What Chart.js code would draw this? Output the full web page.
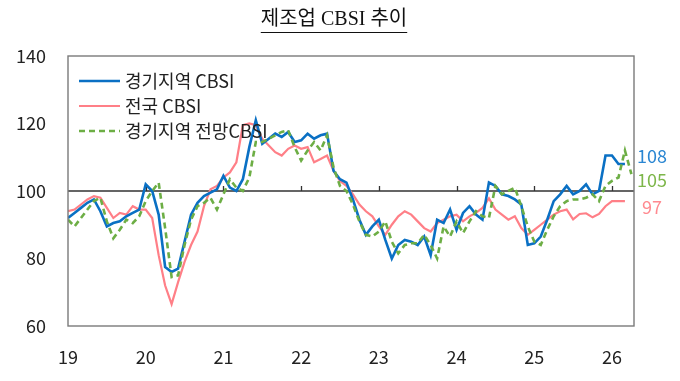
<!DOCTYPE html>
<html><head><meta charset="utf-8">
<script src="https://cdn.jsdelivr.net/npm/chart.js@4.4.1/dist/chart.umd.min.js"></script>
<style>html,body{margin:0;padding:0;background:#fff;}#wrap{width:680px;height:381px;}</style>
</head><body><div id="wrap"><canvas id="c" width="680" height="381"></canvas></div>
<script>
// Monthly data, Jan 2019 onward
const yearLabels = ['19','20','21','22','23','24','25','26'];
const gyeonggiCBSI = [
  92, 93.5, 95, 96.5, 97.5, 94, 89.5, 90.5, 91, 92.5, 93.5, 94.5,
  102, 100, 93, 77.5, 76, 77, 85, 93, 96.5, 98.5, 99.5, 100.5,
  104.5, 101, 100, 103.5, 113, 121, 114, 115.5, 117, 116, 117.5, 114.5,
  115, 117, 115.5, 116.5, 117, 106, 103.5, 102.5, 97.5, 91.5, 87, 89.5,
  91.5, 85.5, 80, 84, 85.5, 85, 84, 86.5, 81, 91.5, 90.5, 94.5,
  88.5, 93.5, 95.5, 93, 91.5, 102.5, 101.5, 99, 98.5, 97.5, 96, 84,
  84.5, 86.5, 91.5, 97, 99, 101.5, 99, 100, 102, 99, 100, 110.5,
  110.5, 108, 108
];
const nationalCBSI = [
  94, 94.5, 96, 97.5, 98.5, 98, 95, 92, 93.5, 93, 95.5, 94.5,
  94.5, 92, 81, 72, 66.5, 73, 79, 84, 88, 95.5, 100.5, 101.5,
  104, 105.5, 108.5, 119.5, 120, 119.5, 115.5, 113.5, 111.5, 110.5, 112.5, 113.5,
  112.5, 113, 108.5, 109.5, 110.5, 106, 103, 101.5, 99, 96, 94, 92.5,
  89.5, 87, 90, 92.5, 94, 93, 91, 89, 88, 90.5, 91.5, 92.5,
  93, 91, 92.5, 93.5, 95, 97.8, 94.5, 93, 91.5, 92.5, 89, 87,
  88.5, 90, 91.5, 93, 94, 94.5, 91.6, 93.2, 93.4, 92.2, 93.2, 95.5,
  97, 97, 97
];
const gyeonggiOutlook = [
  91.5, 89.5, 92, 94.5, 97, 98, 91, 86, 88.5, 91.5, 90.5, 92.5,
  97, 100, 102.5, 89, 74.5, 75, 84, 91.5, 95.5, 96.5, 98, 94.5,
  99, 103.5, 101, 100, 104, 114.5, 114.5, 115.5, 116.5, 117.5, 118, 113,
  109, 112, 114.5, 112, 116.5, 107, 101.5, 100, 96, 91, 87, 86.5,
  88, 91, 85, 81.5, 84, 84.5, 84.5, 87, 84, 80, 89.5, 86.5,
  91, 87.5, 91, 94, 92.5, 92, 101.5, 99, 100, 101, 95.5, 89.5,
  85, 84, 88.5, 92.5, 95.5, 97, 97.5, 97.5, 98, 99, 97, 101.5,
  103, 104, 112, 105
];
const yTickValues = [60, 80, 100, 120, 140];
const titleText = '제조업 CBSI 추이';
const seriesNames = ['경기지역 CBSI', '전국 CBSI', '경기지역 전망CBSI'];
const endLabels = ['108', '97', '105'];

const toPoints = arr => arr.map((v, i) => ({x: i, y: v}));
const KFONT = "'Noto Sans CJK KR', 'Noto Sans', sans-serif";

const datasets = [
  {label: seriesNames[0], data: toPoints(gyeonggiCBSI), borderColor: '#0A70C4', borderWidth: 2.6, order: 1, labelColor: '#2A86D2', labelDy: -8},
  {label: seriesNames[1], data: toPoints(nationalCBSI), borderColor: '#FF7F87', borderWidth: 2.2, order: 2, labelColor: '#FF8A90', labelDy: 6},
  {label: seriesNames[2], data: toPoints(gyeonggiOutlook), borderColor: '#6DAE45', borderWidth: 2.6, borderDash: [6, 4], order: 0, labelColor: '#7DB64A', labelDy: 6}
].map(d => Object.assign({pointRadius: 0, tension: 0, fill: false, borderJoinStyle: 'miter'}, d));

const deco = {
  id: 'deco',
  beforeDatasetsDraw(chart) {
    const {ctx, chartArea: a, scales: {x, y}} = chart;
    const y100 = y.getPixelForValue(100);
    ctx.save();
    ctx.strokeStyle = '#333';
    ctx.lineWidth = 1.3;
    ctx.beginPath();
    ctx.moveTo(a.left, y100); ctx.lineTo(a.right, y100);
    for (let k = 1; k < yearLabels.length; k++) {
      const px = Math.round(x.getPixelForValue(k * 12)) + 0.5;
      ctx.moveTo(px, y100); ctx.lineTo(px, y100 - 5);
    }
    ctx.stroke();
    ctx.restore();
  },
  afterDatasetsDraw(chart) {
    const {ctx, chartArea: a, scales: {x, y}} = chart;
    ctx.save();
    // frame
    ctx.strokeStyle = '#7a7a7a';
    ctx.lineWidth = 1.4;
    ctx.strokeRect(a.left, a.top, a.right - a.left, a.bottom - a.top);
    // legend
    ctx.font = '18px ' + KFONT;
    ctx.textBaseline = 'middle';
    ctx.textAlign = 'left';
    chart.data.datasets.forEach((d, i) => {
      const ly = a.top + 25 + i * 25;
      ctx.strokeStyle = d.borderColor;
      ctx.lineWidth = d.borderWidth;
      ctx.setLineDash(d.borderDash || []);
      ctx.beginPath();
      ctx.moveTo(a.left + 11, ly); ctx.lineTo(a.left + 52, ly);
      ctx.stroke();
      ctx.setLineDash([]);
      ctx.fillStyle = '#222';
      ctx.fillText(d.label, a.left + 57, ly);
    });
    // end labels
    ctx.textAlign = 'center';
    chart.data.datasets.forEach((d, i) => {
      const last = d.data[d.data.length - 1].y;
      ctx.fillStyle = d.labelColor;
      ctx.fillText(endLabels[i], a.right + 18, y.getPixelForValue(last) + d.labelDy);
    });
    ctx.restore();
  },
  afterDraw(chart) {
    const {ctx} = chart;
    ctx.save();
    ctx.font = "20px 'Liberation Serif', 'Noto Sans CJK KR', serif";
    ctx.fillStyle = '#111';
    ctx.textAlign = 'center';
    ctx.textBaseline = 'middle';
    const cx = 334, cy = 20;
    ctx.fillText(titleText, cx, cy);
    const w = ctx.measureText(titleText).width;
    ctx.strokeStyle = '#111';
    ctx.lineWidth = 1;
    ctx.beginPath();
    ctx.moveTo(cx - w / 2, cy + 12.5); ctx.lineTo(cx + w / 2, cy + 12.5);
    ctx.stroke();
    ctx.restore();
  }
};

new Chart(document.getElementById('c'), {
  type: 'line',
  data: {datasets},
  options: {
    responsive: false,
    animation: false,
    devicePixelRatio: 1,
    layout: {padding: {top: 56, right: 46, left: 0, bottom: 0}},
    plugins: {legend: {display: false}, tooltip: {enabled: false}, title: {display: false}},
    scales: {
      x: {
        type: 'linear', min: 0, max: 87.4,
        grid: {display: false, drawTicks: false, tickLength: 0},
        border: {display: false},
        ticks: {
          autoSkip: false, maxRotation: 0, padding: 20,
          font: {family: KFONT, size: 18}, color: '#222',
          callback: v => yearLabels[Math.round(v / 12)]
        },
        afterBuildTicks: s => { s.ticks = yearLabels.map((_, k) => ({value: k * 12})); },
        afterFit: s => { s.height = 55; }
      },
      y: {
        min: 60, max: 140,
        grid: {display: false, drawTicks: false, tickLength: 0},
        border: {display: false},
        ticks: {padding: 22, font: {family: KFONT, size: 18}, color: '#222'},
        afterBuildTicks: s => { s.ticks = yTickValues.map(v => ({value: v})); },
        afterFit: s => { s.width = 68; }
      }
    }
  },
  plugins: [deco]
});
</script>
</body></html>
